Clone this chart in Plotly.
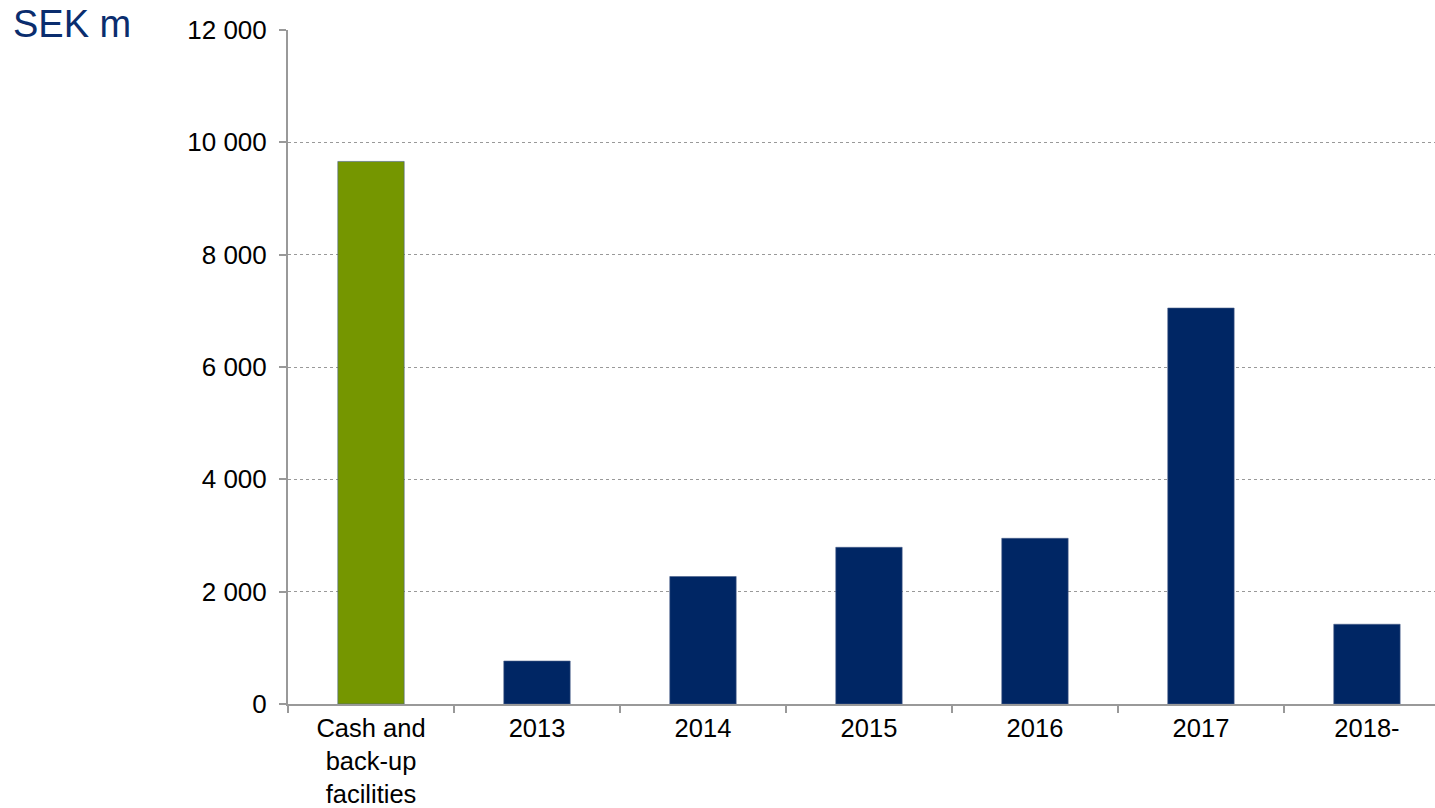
import plotly.graph_objects as go

categories = ["Cash and<br>back-up<br>facilities", "2013", "2014", "2015", "2016", "2017", "2018-"]
values = [9660, 765, 2270, 2790, 2950, 7050, 1420]
bar_colors = ["#759600", "#002664", "#002664", "#002664", "#002664", "#002664", "#002664"]
y_ticks = [0, 2000, 4000, 6000, 8000, 10000, 12000]
y_tick_text = ["0", "2 000", "4 000", "6 000", "8 000", "10 000", "12 000"]

FONT = "Liberation Sans, Arial, sans-serif"

fig = go.Figure(go.Bar(
    x=categories, y=values,
    marker=dict(color=bar_colors, line=dict(color="#4a5f8a", width=0.6)),
    width=0.4,
))

fig.update_layout(
    width=1435, height=808,
    margin=dict(l=288, r=0, t=30, b=104),
    plot_bgcolor="white", paper_bgcolor="white",
    showlegend=False,
    font=dict(family=FONT, size=26, color="black"),
)
fig.update_xaxes(
    type="category",
    range=[-0.5, 6.41],
    tickson="boundaries",
    ticks="outside", ticklen=7, tickwidth=2, tickcolor="#999999",
    showline=True, linecolor="#999999", linewidth=2,
    showgrid=False,
    tickfont=dict(family=FONT, size=25.5, color="black"),
)
fig.update_yaxes(
    range=[0, 12000],
    tickvals=y_ticks, ticktext=y_tick_text,
    ticks="outside", ticklen=7, tickwidth=2, tickcolor="#999999",
    ticklabelstandoff=7,
    showline=True, linecolor="#999999", linewidth=2,
    showgrid=True, gridcolor="#999999", gridwidth=1, griddash="dot",
    zeroline=False,
    tickfont=dict(family=FONT, size=26, color="black"),
)
fig.add_annotation(
    text="SEK m", xref="paper", yref="paper",
    x=-288/1147, y=1, xanchor="left", yanchor="middle",
    xshift=11, yshift=6,
    showarrow=False,
    font=dict(family=FONT, size=38, color="#0a2d6e"),
)

fig.write_html("out.html")
